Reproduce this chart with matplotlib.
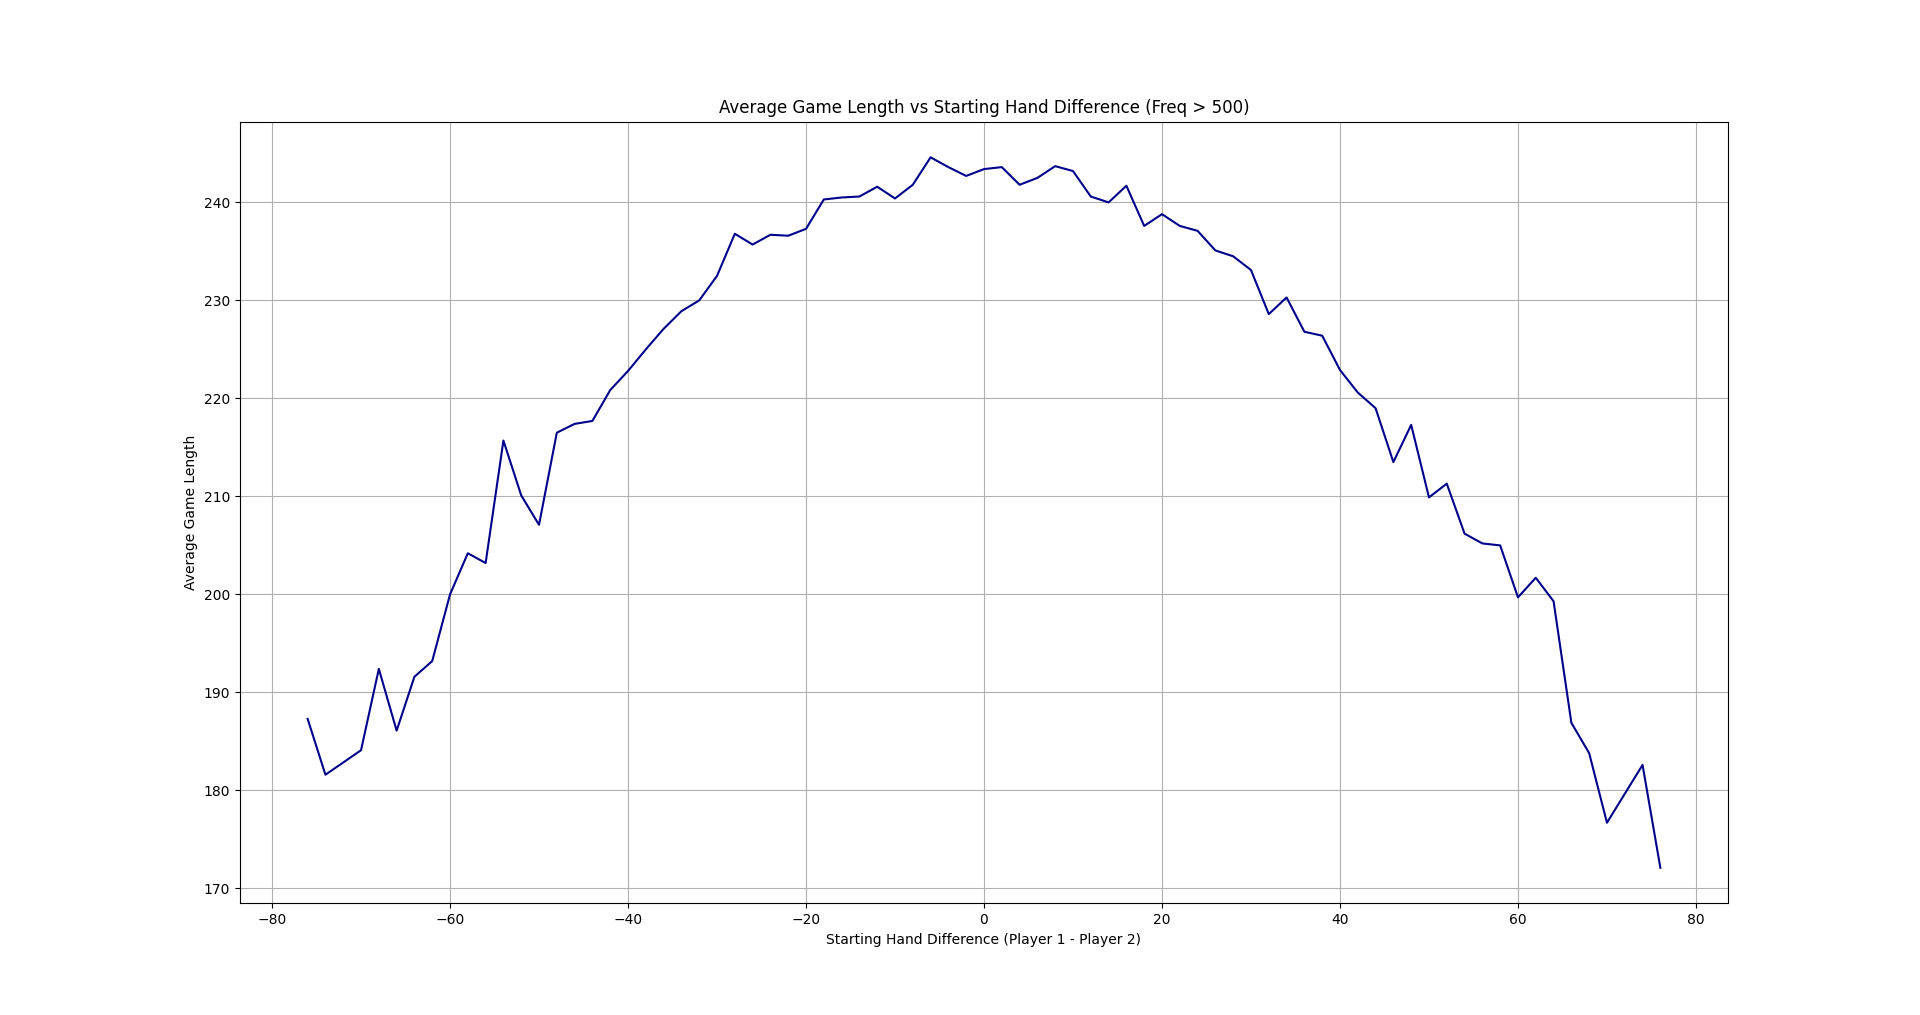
import matplotlib
matplotlib.use("Agg")
import matplotlib.pyplot as plt

# starting hand difference (player 1 - player 2); -72 and 72 fall below the freq cut
hand_diff = [-76, -74, -70, -68, -66, -64, -62, -60, -58, -56, -54, -52, -50,
             -48, -46, -44, -42, -40, -38, -36, -34, -32, -30, -28, -26, -24,
             -22, -20, -18, -16, -14, -12, -10, -8, -6, -4, -2, 0, 2, 4, 6, 8,
             10, 12, 14, 16, 18, 20, 22, 24, 26, 28, 30, 32, 34, 36, 38, 40,
             42, 44, 46, 48, 50, 52, 54, 56, 58, 60, 62, 64, 66, 68, 70, 74, 76]

avg_length = [187.3, 181.6, 184.1, 192.4, 186.1, 191.6, 193.2, 200.0, 204.2,
              203.2, 215.7, 210.1, 207.1, 216.5, 217.4, 217.7, 220.85, 222.8,
              225.0, 227.1, 228.9, 230.0, 232.5, 236.8, 235.7, 236.7, 236.6,
              237.3, 240.3, 240.5, 240.6, 241.6, 240.4, 241.8, 244.6, 243.6,
              242.7, 243.4, 243.6, 241.8, 242.5, 243.7, 243.2, 240.6, 240.0,
              241.7, 237.6, 238.8, 237.6, 237.1, 235.1, 234.5, 233.1, 228.6,
              230.3, 226.8, 226.4, 222.9, 220.6, 219.0, 213.5, 217.3, 209.9,
              211.3, 206.2, 205.2, 205.0, 199.7, 201.7, 199.3, 186.9, 183.8,
              176.7, 182.6, 172.1]

fig, ax = plt.subplots(figsize=(19.2, 10.15), dpi=100)
ax.plot(hand_diff, avg_length, color="darkblue")
ax.set_title("Average Game Length vs Starting Hand Difference (Freq > 500)")
ax.set_xlabel("Starting Hand Difference (Player 1 - Player 2)")
ax.set_ylabel("Average Game Length")
ax.grid(True)
fig.savefig("out.png", dpi=100)
